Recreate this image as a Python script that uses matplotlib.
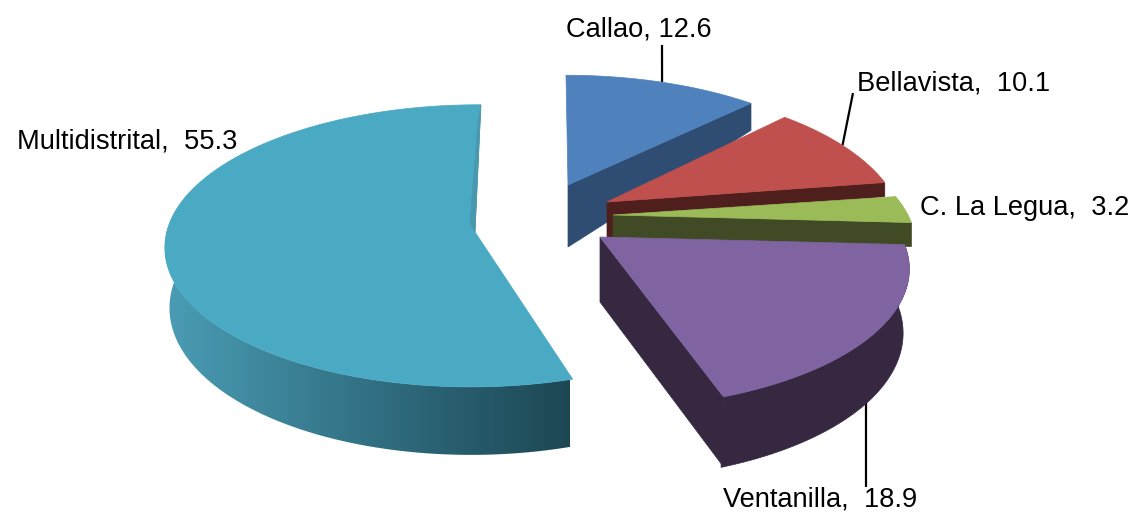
import numpy as np
import matplotlib
matplotlib.use("Agg")
import matplotlib.pyplot as plt
from matplotlib.colors import LinearSegmentedColormap
from matplotlib.patches import Polygon

plt.rcParams['font.family'] = ['Liberation Sans', 'DejaVu Sans']

# Datos
categorias = ['Callao', 'Bellavista', 'C. La Legua', 'Ventanilla', 'Multidistrital']
valores = [12.6, 10.1, 3.2, 18.9, 55.3]
separadores = [', ', ',  ', ',  ', ',  ', ',  ']

# Estilo de cada porcion
color_top = ['#4F81BD', '#C0504D', '#9BBB59', '#8064A2', '#4AA9C3']
color_lado = ['#2F4D73', '#4F1F1E', '#404A25', '#352840', '#4A9DB5']

# Geometria en pixeles: centro de la elipse, radios, perspectiva, sesgo, punta
centro = [(566, 185), (607, 202), (613, 215), (600, 237), (475, 243)]
radios = [(302, 135), (290, 140), (295, 132), (301, 132), (310, 141)]
persp = [0.23, 0.23, 0.23, 0.23, 0.02]
sesgo = [0, 0, 0, 0, 4]
punta = [(568, 185), (607, 202), (613, 215), (600, 237), (475, 232)]
# grosor de la cara radial final: en la punta y en el borde
grosor = [(62, 27), (36, 14), (23, 24), (65, 70), (0, 0)]
# pared exterior: d0, d1, contraccion en x (None = no se ve)
pared = [None, None, None, (62, 9, 0.98), (60, 8, 0.985)]

# Etiquetas y lineas guia
pos_texto = [(566, 29), (857, 84), (920, 208), (723, 500), (17, 141)]
guia_ini = [(662, 45), (853, 93), None, (866, 487), None]
guia_frac = [0.5, 0.5, None, 0.58, None]

fig = plt.figure(figsize=(11.37, 5.19), dpi=100)
ax = fig.add_axes([0, 0, 1, 1])
ax.set_xlim(0, 1137)
ax.set_ylim(519, 0)
ax.axis('off')


def borde(i, th):
    # th en grados, horario desde arriba
    t = np.radians(th)
    u, v = np.sin(t), np.cos(t)
    f = 1 + persp[i] * v
    x = centro[i][0] + radios[i][0] * u / f + sesgo[i] * v
    y = centro[i][1] - radios[i][1] * v / f
    return x, y, v


def cara(puntos, color, z):
    ax.add_patch(Polygon(puntos, closed=True, facecolor=color, edgecolor=color, linewidth=0.5, zorder=z))


limites = np.cumsum([0] + valores) * 3.6

# Lineas guia, por debajo del pastel
for i in range(len(categorias)):
    if guia_ini[i] is None:
        continue
    th = limites[i] + guia_frac[i] * (limites[i + 1] - limites[i])
    x, y, v = borde(i, th)
    if pared[i] is not None:
        y = guia_ini[i][1] - 90
        x = guia_ini[i][0]
    ax.plot([guia_ini[i][0], x], [guia_ini[i][1], y], color='black', lw=1.6, zorder=1, solid_capstyle='butt')

# De atras hacia adelante: Multidistrital primero
orden = [4, 0, 1, 2, 3]
for n, i in enumerate(orden):
    z = 2 + n * 3
    th = np.linspace(limites[i], limites[i + 1], 200)
    x, y, v = borde(i, th)
    tip = punta[i]

    if pared[i] is not None:
        d0, d1, b = pared[i]
        xb = centro[i][0] + (x - centro[i][0]) * b
        yb = y + d0 - d1 * v
        pts = np.vstack([np.column_stack([x, y]), np.column_stack([xb, yb])[::-1]])
        if i == 4:
            # la pared de Multidistrital va degradada de izquierda a derecha
            mascara = v < 0.4
            pts = np.vstack([np.column_stack([x[mascara], y[mascara]]),
                             np.column_stack([xb[mascara], yb[mascara]])[::-1]])
            cmap = LinearSegmentedColormap.from_list('pared', ['#4A9DB5', '#3A7F94', '#2A6273', '#1D4753'])
            im = ax.imshow(np.linspace(0, 1, 256).reshape(1, -1), cmap=cmap, aspect='auto',
                           extent=[165, 570, 519, 0], zorder=z)
            parche = Polygon(pts, closed=True, transform=ax.transData, facecolor='none', edgecolor='none')
            ax.add_patch(parche)
            im.set_clip_path(parche)
        else:
            cara(pts, color_lado[i], z)

    if grosor[i][0] > 0:
        g0, g1 = grosor[i]
        cara([tip, (x[-1], y[-1]), (x[-1], y[-1] + g1), (tip[0], tip[1] + g0)], color_lado[i], z + 1)

    pts_top = np.vstack([[tip], np.column_stack([x, y])])
    cara(pts_top, color_top[i], z + 2)

    if i == 4:
        # borde interior oscuro junto a la punta
        cara([(x[-1], y[-1]), tip, (tip[0] - 5, tip[1] - 9), (x[-1] - 3, y[-1] + 18)], '#4A98AE', z + 3)

# Textos
for i, cat in enumerate(categorias):
    ax.text(pos_texto[i][0], pos_texto[i][1], f"{cat}{separadores[i]}{valores[i]}",
            fontsize=19.6, color='black', ha='left', va='center', zorder=30)

ax.set_xlim(0, 1137)
ax.set_ylim(519, 0)
fig.savefig("out.png", dpi=100)
